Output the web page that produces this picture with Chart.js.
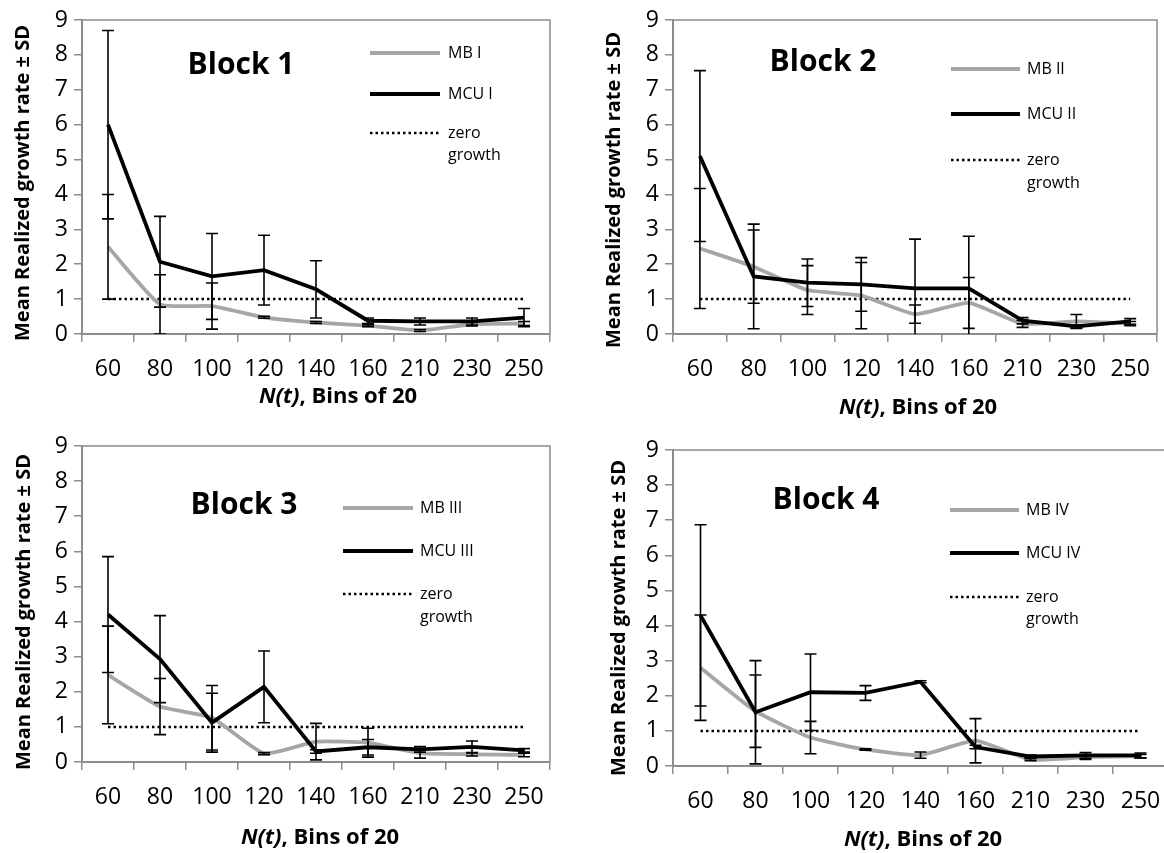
<!DOCTYPE html>
<html>
<head>
<meta charset="utf-8">
<script src="https://cdn.jsdelivr.net/npm/chart.js@4.4.1/dist/chart.umd.min.js"></script>
<style>
    html, body { margin: 0; padding: 0; background: #fff; overflow: hidden; }
    #wrap { position: relative; width: 1164px; height: 853px; }
    canvas { position: absolute; }
</style>
</head>
<body>
<div id="wrap">
    <canvas id="block1"></canvas>
    <canvas id="block2"></canvas>
    <canvas id="block3"></canvas>
    <canvas id="block4"></canvas>
</div>
<script>
// ===================================
// Realized growth rate by N(t) bin, 4 blocks
// ===================================

const bins = ['60', '80', '100', '120', '140', '160', '210', '230', '250'];
const yTicks = [0, 1, 2, 3, 4, 5, 6, 7, 8, 9];
const zeroGrowth = [1, 1, 1, 1, 1, 1, 1, 1, 1];

// Block 1
const mb1 = [2.5, 0.85, 0.8, 0.48, 0.33, 0.24, 0.1, 0.28, 0.3];
const mb1Sd = [1.5, 0.85, 0.66, 0.03, 0.03, 0.03, 0.03, 0.05, 0.06];
const mcu1 = [6.0, 2.07, 1.65, 1.83, 1.28, 0.38, 0.36, 0.36, 0.47];
const mcu1Sd = [2.7, 1.3, 1.23, 1.0, 0.82, 0.08, 0.1, 0.1, 0.26];

// Block 2
const mb2 = [2.45, 1.93, 1.26, 1.1, 0.57, 0.89, 0.29, 0.36, 0.3];
const mb2Sd = [1.72, 1.05, 0.7, 0.95, 0.26, 0.73, 0.1, 0.2, 0.06];
const mcu2 = [5.1, 1.65, 1.47, 1.42, 1.31, 1.31, 0.38, 0.22, 0.36];
const mcu2Sd = [2.45, 1.5, 0.68, 0.77, 1.41, 1.49, 0.09, 0.04, 0.08];

// Block 3
const mb3 = [2.48, 1.58, 1.26, 0.24, 0.58, 0.55, 0.25, 0.22, 0.2];
const mb3Sd = [1.39, 0.8, 0.92, 0.03, 0.52, 0.41, 0.14, 0.05, 0.05];
const mcu3 = [4.2, 2.93, 1.12, 2.14, 0.3, 0.42, 0.36, 0.43, 0.33];
const mcu3Sd = [1.65, 1.24, 0.84, 1.02, 0.05, 0.22, 0.08, 0.17, 0.05];

// Block 4
const mb4 = [2.8, 1.56, 0.81, 0.47, 0.31, 0.72, 0.18, 0.25, 0.28];
const mb4Sd = [1.5, 1.03, 0.46, 0.02, 0.09, 0.63, 0.03, 0.06, 0.05];
const mcu4 = [4.29, 1.53, 2.1, 2.08, 2.4, 0.54, 0.27, 0.3, 0.3];
const mcu4Sd = [2.58, 1.47, 1.09, 0.21, 0.03, 0.05, 0.04, 0.08, 0.07];

const AXIS_GRAY = '#8c8c8c';
const MB_GRAY = '#a6a6a6';
const FONT = '"Open Sans", sans-serif';

// panel layout (page coordinates)
const panels = [
    {
        id: 'block1', title: 'Block 1', roman: 'I', mb: mb1, mbSd: mb1Sd, mcu: mcu1, mcuSd: mcu1Sd,
        canvas: { left: 0, top: 0, w: 580, h: 420 },
        plot: { l: 82, t: 20, r: 550, b: 334 },
        yTitle: { x: 23, y: 183 }, xTitle: { x: 338, y: 397 }, block: { x: 241, y: 65 },
        legend: { x1: 370, x2: 440, tx: 448, y: [53, 94, 133, 155] }
    },
    {
        id: 'block2', title: 'Block 2', roman: 'II', mb: mb2, mbSd: mb2Sd, mcu: mcu2, mcuSd: mcu2Sd,
        canvas: { left: 580, top: 0, w: 584, h: 420 },
        plot: { l: 673, t: 20, r: 1162, b: 334 },
        yTitle: { x: 614, y: 190 }, xTitle: { x: 918, y: 408 }, block: { x: 823, y: 62 },
        legend: { x1: 951, x2: 1020, tx: 1027, y: [69, 114, 160, 183] }
    },
    {
        id: 'block3', title: 'Block 3', roman: 'III', mb: mb3, mbSd: mb3Sd, mcu: mcu3, mcuSd: mcu3Sd,
        canvas: { left: 0, top: 420, w: 580, h: 433 },
        plot: { l: 82, t: 446, r: 550, b: 762 },
        yTitle: { x: 24, y: 612 }, xTitle: { x: 320, y: 838 }, block: { x: 244, y: 505 },
        legend: { x1: 343, x2: 413, tx: 420, y: [508, 551, 594, 617] }
    },
    {
        id: 'block4', title: 'Block 4', roman: 'IV', mb: mb4, mbSd: mb4Sd, mcu: mcu4, mcuSd: mcu4Sd,
        canvas: { left: 580, top: 420, w: 600, h: 433 },
        plot: { l: 673, t: 450, r: 1168, b: 766 },
        yTitle: { x: 619, y: 618 }, xTitle: { x: 923, y: 840 }, block: { x: 826, y: 500 },
        legend: { x1: 950, x2: 1019, tx: 1026, y: [510, 553, 597, 619] }
    }
];

// Error bars (± SD), drawn from the chart's own scales
const errorBarPlugin = {
    id: 'errorBars',
    afterDatasetsDraw(chart) {
        const ctx = chart.ctx;
        const xs = chart.scales.x, ys = chart.scales.y, area = chart.chartArea;
        ctx.save();
        ctx.beginPath();
        ctx.rect(area.left, area.top - 2, area.right - area.left, area.bottom - area.top + 2);
        ctx.clip();
        ctx.strokeStyle = '#000';
        ctx.lineWidth = 1.6;
        chart.data.datasets.forEach(ds => {
            if (!ds.sd) return;
            ds.data.forEach((v, i) => {
                const px = xs.getPixelForValue(i);
                const lo = v - ds.sd[i];
                const top = ys.getPixelForValue(v + ds.sd[i]);
                const bot = ys.getPixelForValue(Math.max(lo, 0));
                ctx.beginPath();
                ctx.moveTo(px, top);
                ctx.lineTo(px, bot);
                ctx.moveTo(px - 6, top);
                ctx.lineTo(px + 6, top);
                if (lo >= 0) {
                    ctx.moveTo(px - 6, bot);
                    ctx.lineTo(px + 6, bot);
                }
                ctx.stroke();
            });
        });
        ctx.restore();
    }
};

// Frame, titles and legend text
const decorPlugin = {
    id: 'decor',
    afterDraw(chart) {
        const p = chart.options.plugins.decor;
        const ctx = chart.ctx, area = chart.chartArea;
        const ox = p.canvas.left, oy = p.canvas.top;
        ctx.save();

        // top + right border of plot area
        ctx.strokeStyle = AXIS_GRAY;
        ctx.lineWidth = 1.5;
        ctx.beginPath();
        ctx.moveTo(area.left, area.top);
        ctx.lineTo(area.right, area.top);
        ctx.lineTo(area.right, area.bottom);
        ctx.stroke();

        ctx.fillStyle = '#000';
        ctx.textBaseline = 'middle';

        // block title
        ctx.font = 'bold 30px ' + FONT;
        ctx.textAlign = 'center';
        ctx.fillText(p.title, p.block.x - ox, p.block.y - oy);

        // y axis title
        ctx.save();
        ctx.translate(p.yTitle.x - ox, p.yTitle.y - oy);
        ctx.rotate(-Math.PI / 2);
        ctx.font = 'bold 20px ' + FONT;
        ctx.fillText('Mean Realized growth rate \u00b1 SD', 0, 0);
        ctx.restore();

        // x axis title: "N(t)" bold italic, rest bold
        ctx.textAlign = 'left';
        const partA = 'N(t)', partB = ', Bins of 20';
        ctx.font = 'italic bold 22px ' + FONT;
        const wA = ctx.measureText(partA).width;
        ctx.font = 'bold 22px ' + FONT;
        const wB = ctx.measureText(partB).width;
        let sx = p.xTitle.x - ox - (wA + wB) / 2;
        ctx.font = 'italic bold 22px ' + FONT;
        ctx.fillText(partA, sx, p.xTitle.y - oy);
        ctx.font = 'bold 22px ' + FONT;
        ctx.fillText(partB, sx + wA, p.xTitle.y - oy);

        // legend
        const lg = p.legend;
        const x1 = lg.x1 - ox, x2 = lg.x2 - ox, tx = lg.tx - ox;
        ctx.lineWidth = 4;
        ctx.strokeStyle = MB_GRAY;
        ctx.beginPath();
        ctx.moveTo(x1, lg.y[0] - oy);
        ctx.lineTo(x2, lg.y[0] - oy);
        ctx.stroke();
        ctx.strokeStyle = '#000';
        ctx.beginPath();
        ctx.moveTo(x1, lg.y[1] - oy);
        ctx.lineTo(x2, lg.y[1] - oy);
        ctx.stroke();
        ctx.lineWidth = 2.5;
        ctx.setLineDash([2.5, 3]);
        ctx.beginPath();
        ctx.moveTo(x1, lg.y[2] - oy);
        ctx.lineTo(x2, lg.y[2] - oy);
        ctx.stroke();
        ctx.setLineDash([]);

        ctx.font = '16px ' + FONT;
        ctx.fillText('MB ' + p.roman, tx, lg.y[0] - oy);
        ctx.fillText('MCU ' + p.roman, tx, lg.y[1] - oy);
        ctx.fillText('zero', tx, lg.y[2] - oy);
        ctx.fillText('growth', tx, lg.y[3] - oy);

        ctx.restore();
    }
};

function initPanel(p) {
    const el = document.getElementById(p.id);
    el.width = p.canvas.w;
    el.height = p.canvas.h;
    el.style.left = p.canvas.left + 'px';
    el.style.top = p.canvas.top + 'px';
    el.style.width = p.canvas.w + 'px';
    el.style.height = p.canvas.h + 'px';

    const plotL = p.plot.l - p.canvas.left;
    const plotT = p.plot.t - p.canvas.top;
    const plotR = p.plot.r - p.canvas.left;
    const plotB = p.plot.b - p.canvas.top;

    return new Chart(el, {
        type: 'line',
        data: {
            labels: bins,
            datasets: [
                {
                    label: 'MCU ' + p.roman,
                    data: p.mcu,
                    sd: p.mcuSd,
                    borderColor: '#000',
                    borderWidth: 3.8,
                    pointRadius: 0,
                    tension: 0
                },
                {
                    label: 'MB ' + p.roman,
                    data: p.mb,
                    sd: p.mbSd,
                    borderColor: MB_GRAY,
                    borderWidth: 3.8,
                    pointRadius: 0,
                    tension: 0.15
                },
                {
                    label: 'zero growth',
                    data: zeroGrowth,
                    borderColor: '#000',
                    borderWidth: 2.5,
                    borderDash: [2.5, 3],
                    pointRadius: 0
                }
            ]
        },
        options: {
            responsive: false,
            animation: false,
            devicePixelRatio: 1,
            layout: {
                padding: { left: 0, top: plotT, right: p.canvas.w - plotR, bottom: 0 }
            },
            plugins: {
                legend: { display: false },
                tooltip: { enabled: false },
                decor: p
            },
            scales: {
                x: {
                    offset: true,
                    grid: {
                        offset: true,
                        drawOnChartArea: false,
                        drawTicks: true,
                        tickLength: 8,
                        color: AXIS_GRAY,
                        lineWidth: 1.5
                    },
                    border: { color: AXIS_GRAY, width: 2 },
                    ticks: {
                        color: '#000',
                        font: { family: FONT, size: 23 },
                        padding: 14,
                        maxRotation: 0,
                        autoSkip: false
                    },
                    afterFit: s => { s.height = p.canvas.h - plotB; }
                },
                y: {
                    min: yTicks[0],
                    max: yTicks[yTicks.length - 1],
                    afterBuildTicks: s => { s.ticks = yTicks.map(v => ({ value: v })); },
                    grid: {
                        drawOnChartArea: false,
                        drawTicks: true,
                        tickLength: 8,
                        color: AXIS_GRAY,
                        lineWidth: 1.5
                    },
                    border: { color: AXIS_GRAY, width: 2 },
                    ticks: {
                        color: '#000',
                        font: { family: FONT, size: 23 },
                        padding: 6
                    },
                    afterFit: s => { s.width = plotL; }
                }
            }
        },
        plugins: [errorBarPlugin, decorPlugin]
    });
}

document.addEventListener('DOMContentLoaded', () => {
    panels.forEach(initPanel);
});
</script>
</body>
</html>
